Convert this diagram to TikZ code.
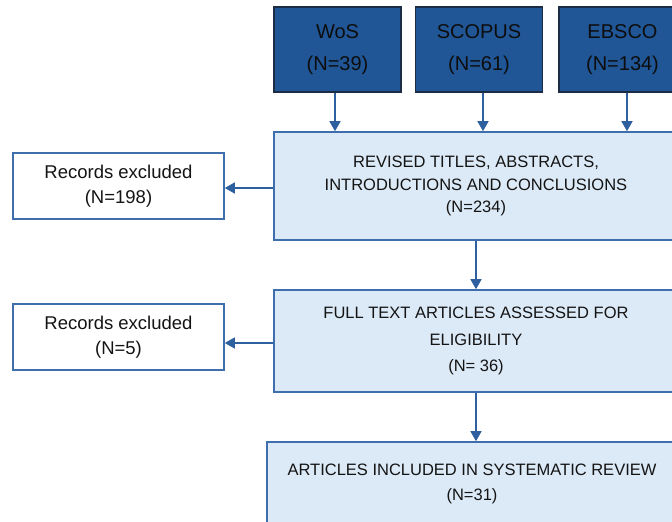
\documentclass[tikz,border=0pt]{standalone}
\usepackage{fontspec}
\setmainfont{Liberation Sans}
\usetikzlibrary{arrows.meta}
\definecolor{darkfill}{RGB}{32,86,150}
\definecolor{darkline}{RGB}{28,44,68}
\definecolor{lightfill}{RGB}{220,233,246}
\definecolor{lightline}{RGB}{62,110,172}
\definecolor{arrowcol}{RGB}{46,95,158}
\tikzset{
  srcbox/.style={draw=darkline, line width=1.8pt, fill=darkfill, text=black!95,
    minimum width=127pt, minimum height=85pt, align=center, inner sep=0pt,
    font=\fontsize{20}{32}\selectfont},
  stagebox/.style={draw=lightline, line width=1.6pt, fill=lightfill, text=black!92,
    minimum width=404pt, align=center, inner sep=0pt},
  exclbox/.style={draw=lightline, line width=1.6pt, fill=white, text=black!92,
    minimum width=211pt, minimum height=66pt, align=center, inner sep=0pt,
    font=\fontsize{18.5}{25}\selectfont},
  arr/.style={draw=arrowcol, line width=1.4pt, -{Triangle[width=11pt,length=10pt]}}
}
\begin{document}
\begin{tikzpicture}[x=1pt,y=-1pt]
\useasboundingbox (0,0) rectangle (672,522);
\clip (0,0) rectangle (672,522);
\fill[white] (0,0) rectangle (672,522);
% source boxes
\node[srcbox] (wos) at (337.5,49.5) {WoS\\(N=39)};
\node[srcbox] (scopus) at (479,49.5) {SCOPUS\\(N=61)};
\node[srcbox] (ebsco) at (622.5,49.5) {EBSCO\\(N=134)};
% stage boxes
\node[stagebox, minimum height=108pt, font=\fontsize{16.5}{22.5}\selectfont] (b1) at (476,186)
  {REVISED TITLES, ABSTRACTS,\\INTRODUCTIONS AND CONCLUSIONS\\(N=234)};
\node[stagebox, minimum height=102pt, font=\fontsize{16.5}{26.5}\selectfont] (b2) at (476,341)
  {FULL TEXT ARTICLES ASSESSED FOR\\ELIGIBILITY\\(N= 36)};
\node[stagebox, minimum width=410pt, minimum height=84pt, font=\fontsize{16.5}{25}\selectfont] (b3) at (472,484)
  {ARTICLES INCLUDED IN SYSTEMATIC REVIEW\\(N=31)};
% excluded boxes
\node[exclbox] (r1) at (118.5,186) {Records excluded\\(N=198)};
\node[exclbox] (r2) at (118.5,337) {Records excluded\\(N=5)};
% arrows
\draw[arr] ([xshift=-2.5pt]wos.south) -- ([xshift=-2.5pt]wos.south |- b1.north);
\draw[arr] ([xshift=4pt]scopus.south) -- ([xshift=4pt]scopus.south |- b1.north);
\draw[arr] ([xshift=4.5pt]ebsco.south) -- ([xshift=4.5pt]ebsco.south |- b1.north);
\draw[arr] ([yshift=-2pt]b1.west) -- ([yshift=-2pt]b1.west -| r1.east);
\draw[arr] ([yshift=-2pt]b2.west) -- ([yshift=-2pt]b2.west -| r2.east);
\draw[arr] (b1.south) -- (b1.south |- b2.north);
\draw[arr] (b2.south) -- (b2.south |- b3.north);
\end{tikzpicture}
\end{document}
